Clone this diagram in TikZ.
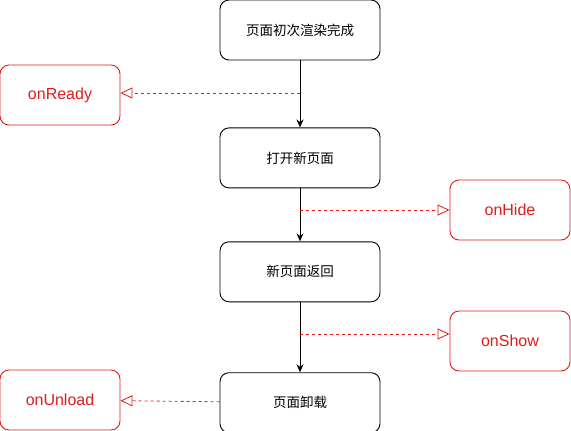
\documentclass[tikz,border=0pt]{standalone}
\usepackage{fontspec}
\setsansfont{Liberation Sans}
\newfontfamily\cjk{Noto Sans CJK SC}
\usepackage{tikz}
\usetikzlibrary{positioning,arrows.meta,calc}

\definecolor{hookred}{RGB}{222,28,28}

\tikzset{
	stage/.style={rectangle, draw, rounded corners=9pt, minimum width=160pt, minimum height=60pt, line width=0.9pt, font=\cjk\fontsize{13.5}{16}\selectfont},
	hook/.style={rectangle, draw=hookred, text=hookred, rounded corners=9pt, minimum width=120pt, minimum height=60pt, line width=0.9pt, font=\sffamily\fontsize{16}{19}\selectfont},
	flow/.style={-{Stealth[length=8pt,width=7pt]}, line width=0.9pt},
	call/.style={-{Triangle[open,length=12pt,width=11pt]}, hookred, line width=0.8pt, dash pattern=on 3pt off 3pt}
}

\begin{document}
\begin{tikzpicture}[x=1pt, y=-1pt]

	\useasboundingbox (0,0) rectangle (571,431);

	\node[stage] (Render) at (300,30) {页面初次渲染完成};
	\node[stage, below=67pt of Render] (Open) {打开新页面};
	\node[stage, below=53pt of Open] (Back) {新页面返回};
	\node[stage, below=70pt of Back] (Unload) {页面卸载};

	\node[hook] (OnReady) at (60,95) {onReady};
	\node[hook] (OnHide) at (510,210) {onHide};
	\node[hook] (OnShow) at (510,341) {onShow};
	\node[hook] (OnUnload) at (60,400) {onUnload};

	\draw[flow] (Render) -- (Open);
	\draw[flow] (Open) -- (Back);
	\draw[flow] (Back) -- (Unload);

	\coordinate (c1) at (Render.south |- 0,93);
	\coordinate (c2) at (Open.south |- 0,210);
	\coordinate (c3) at (Back.south |- 0,334);

	\draw[call] (c1) -- (OnReady.east |- c1);
	\draw[call] (c2) -- (OnHide.west |- c2);
	\draw[call] (c3) -- (OnShow.west |- c3);
	\draw[call] (Unload) -- (OnUnload);

\end{tikzpicture}
\end{document}
